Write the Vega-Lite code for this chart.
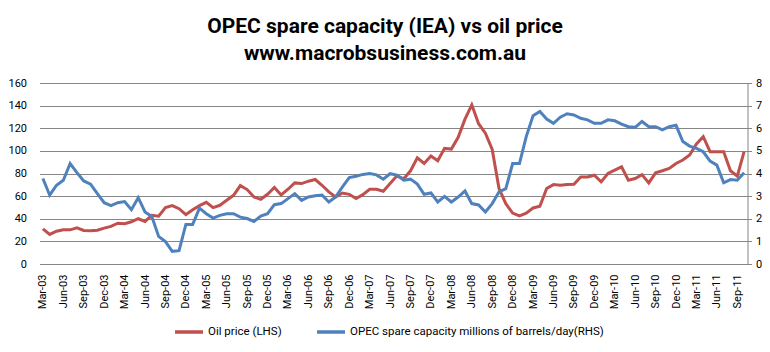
{
  "$schema": "https://vega.github.io/schema/vega-lite/v6.json",
  "autosize": {"type": "none"},
  "width": 708,
  "height": 181,
  "padding": {"left": 39.5, "top": 83, "right": 22.5, "bottom": 88},
  "background": "white",
  "title": {
    "text": ["OPEC spare capacity (IEA) vs oil price", "www.macrobsusiness.com.au"],
    "font": "Roboto",
    "fontSize": 21,
    "fontWeight": "bold",
    "color": "#000000",
    "anchor": "middle",
    "lineHeight": 27,
    "offset": 13,
    "dx": -8.5
  },
  "config": {
    "view": {"stroke": null},
    "axis": {"labelFont": "Roboto", "labelFontSize": 11, "labelColor": "#000000"},
    "legend": {"labelFont": "Roboto", "labelFontSize": 11.5, "labelColor": "#000000"}
  },
  "data": {
    "values": [
      {"month": "Mar-03", "oil": 31.1, "opec": 3.78},
      {"month": "Apr-03", "oil": 26.1, "opec": 3.04},
      {"month": "May-03", "oil": 29.0, "opec": 3.48},
      {"month": "Jun-03", "oil": 30.2, "opec": 3.70},
      {"month": "Jul-03", "oil": 30.2, "opec": 4.44},
      {"month": "Aug-03", "oil": 32.0, "opec": 4.04},
      {"month": "Sep-03", "oil": 29.6, "opec": 3.67},
      {"month": "Oct-03", "oil": 29.3, "opec": 3.53},
      {"month": "Nov-03", "oil": 29.9, "opec": 3.11},
      {"month": "Dec-03", "oil": 31.7, "opec": 2.71},
      {"month": "Jan-04", "oil": 33.2, "opec": 2.58},
      {"month": "Feb-04", "oil": 36.1, "opec": 2.71},
      {"month": "Mar-04", "oil": 35.6, "opec": 2.76},
      {"month": "Apr-04", "oil": 37.3, "opec": 2.40},
      {"month": "May-04", "oil": 40.0, "opec": 2.93},
      {"month": "Jun-04", "oil": 37.6, "opec": 2.30},
      {"month": "Jul-04", "oil": 43.0, "opec": 2.10},
      {"month": "Aug-04", "oil": 42.2, "opec": 1.22},
      {"month": "Sep-04", "oil": 49.8, "opec": 0.99},
      {"month": "Oct-04", "oil": 51.6, "opec": 0.56},
      {"month": "Nov-04", "oil": 48.9, "opec": 0.59},
      {"month": "Dec-04", "oil": 43.6, "opec": 1.75},
      {"month": "Jan-05", "oil": 48.0, "opec": 1.75},
      {"month": "Feb-05", "oil": 51.6, "opec": 2.47},
      {"month": "Mar-05", "oil": 54.5, "opec": 2.22},
      {"month": "Apr-05", "oil": 49.8, "opec": 2.03},
      {"month": "May-05", "oil": 51.9, "opec": 2.15},
      {"month": "Jun-05", "oil": 56.3, "opec": 2.22},
      {"month": "Jul-05", "oil": 60.7, "opec": 2.22},
      {"month": "Aug-05", "oil": 69.3, "opec": 2.07},
      {"month": "Sep-05", "oil": 65.8, "opec": 2.01},
      {"month": "Oct-05", "oil": 59.3, "opec": 1.88},
      {"month": "Nov-05", "oil": 57.2, "opec": 2.12},
      {"month": "Dec-05", "oil": 61.6, "opec": 2.22},
      {"month": "Jan-06", "oil": 67.6, "opec": 2.62},
      {"month": "Feb-06", "oil": 61.0, "opec": 2.67},
      {"month": "Mar-06", "oil": 66.1, "opec": 2.89},
      {"month": "Apr-06", "oil": 71.7, "opec": 3.11},
      {"month": "May-06", "oil": 71.1, "opec": 2.81},
      {"month": "Jun-06", "oil": 73.2, "opec": 2.96},
      {"month": "Jul-06", "oil": 74.7, "opec": 3.02},
      {"month": "Aug-06", "oil": 69.6, "opec": 3.05},
      {"month": "Sep-06", "oil": 63.7, "opec": 2.74},
      {"month": "Oct-06", "oil": 59.3, "opec": 2.96},
      {"month": "Nov-06", "oil": 62.8, "opec": 3.41},
      {"month": "Dec-06", "oil": 61.6, "opec": 3.82},
      {"month": "Jan-07", "oil": 57.8, "opec": 3.88},
      {"month": "Feb-07", "oil": 61.3, "opec": 3.96},
      {"month": "Mar-07", "oil": 66.1, "opec": 4.00},
      {"month": "Apr-07", "oil": 66.1, "opec": 3.94},
      {"month": "May-07", "oil": 64.3, "opec": 3.75},
      {"month": "Jun-07", "oil": 71.1, "opec": 3.99},
      {"month": "Jul-07", "oil": 78.0, "opec": 3.93},
      {"month": "Aug-07", "oil": 75.3, "opec": 3.70},
      {"month": "Sep-07", "oil": 82.4, "opec": 3.75},
      {"month": "Oct-07", "oil": 93.9, "opec": 3.53},
      {"month": "Nov-07", "oil": 88.9, "opec": 3.08},
      {"month": "Dec-07", "oil": 95.4, "opec": 3.14},
      {"month": "Jan-08", "oil": 91.3, "opec": 2.74},
      {"month": "Feb-08", "oil": 102.2, "opec": 2.99},
      {"month": "Mar-08", "oil": 101.6, "opec": 2.74},
      {"month": "Apr-08", "oil": 112.0, "opec": 2.96},
      {"month": "May-08", "oil": 128.0, "opec": 3.23},
      {"month": "Jun-08", "oil": 140.7, "opec": 2.67},
      {"month": "Jul-08", "oil": 124.0, "opec": 2.61},
      {"month": "Aug-08", "oil": 115.6, "opec": 2.30},
      {"month": "Sep-08", "oil": 101.3, "opec": 2.67},
      {"month": "Oct-08", "oil": 66.7, "opec": 3.19},
      {"month": "Nov-08", "oil": 53.3, "opec": 3.33},
      {"month": "Dec-08", "oil": 45.0, "opec": 4.44},
      {"month": "Jan-09", "oil": 42.5, "opec": 4.44},
      {"month": "Feb-09", "oil": 45.0, "opec": 5.63},
      {"month": "Mar-09", "oil": 49.5, "opec": 6.55},
      {"month": "Apr-09", "oil": 51.0, "opec": 6.74},
      {"month": "May-09", "oil": 66.7, "opec": 6.41},
      {"month": "Jun-09", "oil": 70.2, "opec": 6.22},
      {"month": "Jul-09", "oil": 69.6, "opec": 6.49},
      {"month": "Aug-09", "oil": 70.2, "opec": 6.64},
      {"month": "Sep-09", "oil": 70.5, "opec": 6.59},
      {"month": "Oct-09", "oil": 77.0, "opec": 6.44},
      {"month": "Nov-09", "oil": 77.0, "opec": 6.37},
      {"month": "Dec-09", "oil": 78.5, "opec": 6.22},
      {"month": "Jan-10", "oil": 72.6, "opec": 6.22},
      {"month": "Feb-10", "oil": 80.0, "opec": 6.37},
      {"month": "Mar-10", "oil": 83.0, "opec": 6.33},
      {"month": "Apr-10", "oil": 85.9, "opec": 6.18},
      {"month": "May-10", "oil": 74.1, "opec": 6.07},
      {"month": "Jun-10", "oil": 75.6, "opec": 6.04},
      {"month": "Jul-10", "oil": 79.0, "opec": 6.30},
      {"month": "Aug-10", "oil": 71.7, "opec": 6.07},
      {"month": "Sep-10", "oil": 80.6, "opec": 6.07},
      {"month": "Oct-10", "oil": 82.4, "opec": 5.93},
      {"month": "Nov-10", "oil": 84.4, "opec": 6.07},
      {"month": "Dec-10", "oil": 88.9, "opec": 6.13},
      {"month": "Jan-11", "oil": 91.9, "opec": 5.41},
      {"month": "Feb-11", "oil": 96.3, "opec": 5.21},
      {"month": "Mar-11", "oil": 106.1, "opec": 5.11},
      {"month": "Apr-11", "oil": 112.6, "opec": 4.96},
      {"month": "May-11", "oil": 99.3, "opec": 4.55},
      {"month": "Jun-11", "oil": 99.3, "opec": 4.37},
      {"month": "Jul-11", "oil": 99.3, "opec": 3.59},
      {"month": "Aug-11", "oil": 82.4, "opec": 3.73},
      {"month": "Sep-11", "oil": 77.6, "opec": 3.70},
      {"month": "Oct-11", "oil": 99.3, "opec": 4.03}
    ]
  },
  "encoding": {
    "x": {
      "field": "month",
      "type": "ordinal",
      "sort": null,
      "scale": {"type": "point", "padding": 0.5},
      "axis": {
        "title": null,
        "labelAngle": -90,
        "labelExpr": "test(/^(Mar|Jun|Sep|Dec)/, datum.label) ? datum.label : ''",
        "labelOverlap": false,
        "ticks": false,
        "domain": false,
        "grid": false,
        "labelPadding": 10
      }
    }
  },
  "layer": [
    {
      "mark": {"type": "line", "strokeWidth": 3},
      "encoding": {
        "y": {
          "field": "oil",
          "type": "quantitative",
          "scale": {"domain": [0, 160], "nice": false},
          "axis": {
            "title": null,
            "orient": "left",
            "values": [0, 20, 40, 60, 80, 100, 120, 140, 160],
            "grid": true,
            "gridColor": "#868686",
            "gridOpacity": 1,
            "gridWidth": 1,
            "domain": false,
            "ticks": false,
            "labelPadding": 13
          }
        },
        "color": {
          "datum": "Oil price (LHS)",
          "scale": {
            "domain": ["Oil price (LHS)", "OPEC spare capacity millions of barrels/day(RHS)"],
            "range": ["#C0504D", "#4F81BD"]
          },
          "legend": {
            "title": null,
            "orient": "none",
            "direction": "horizontal",
            "legendX": 133.5,
            "legendY": 233,
            "padding": 0,
            "symbolType": "stroke",
            "symbolSize": 784,
            "symbolStrokeWidth": 3.5,
            "labelOffset": 3,
            "labelLimit": 0,
            "columnPadding": 28
          }
        }
      }
    },
    {
      "mark": {"type": "line", "strokeWidth": 3},
      "encoding": {
        "y": {
          "field": "opec",
          "type": "quantitative",
          "scale": {"domain": [0, 8], "nice": false},
          "axis": {
            "title": null,
            "orient": "right",
            "values": [0, 1, 2, 3, 4, 5, 6, 7, 8],
            "grid": false,
            "domain": true,
            "domainColor": "#868686",
            "ticks": true,
            "tickColor": "#868686",
            "tickSize": 4,
            "labelPadding": 4
          }
        },
        "color": {
          "datum": "OPEC spare capacity millions of barrels/day(RHS)",
          "scale": {
            "domain": ["Oil price (LHS)", "OPEC spare capacity millions of barrels/day(RHS)"],
            "range": ["#C0504D", "#4F81BD"]
          }
        }
      }
    }
  ],
  "resolve": {"scale": {"y": "independent"}}
}
